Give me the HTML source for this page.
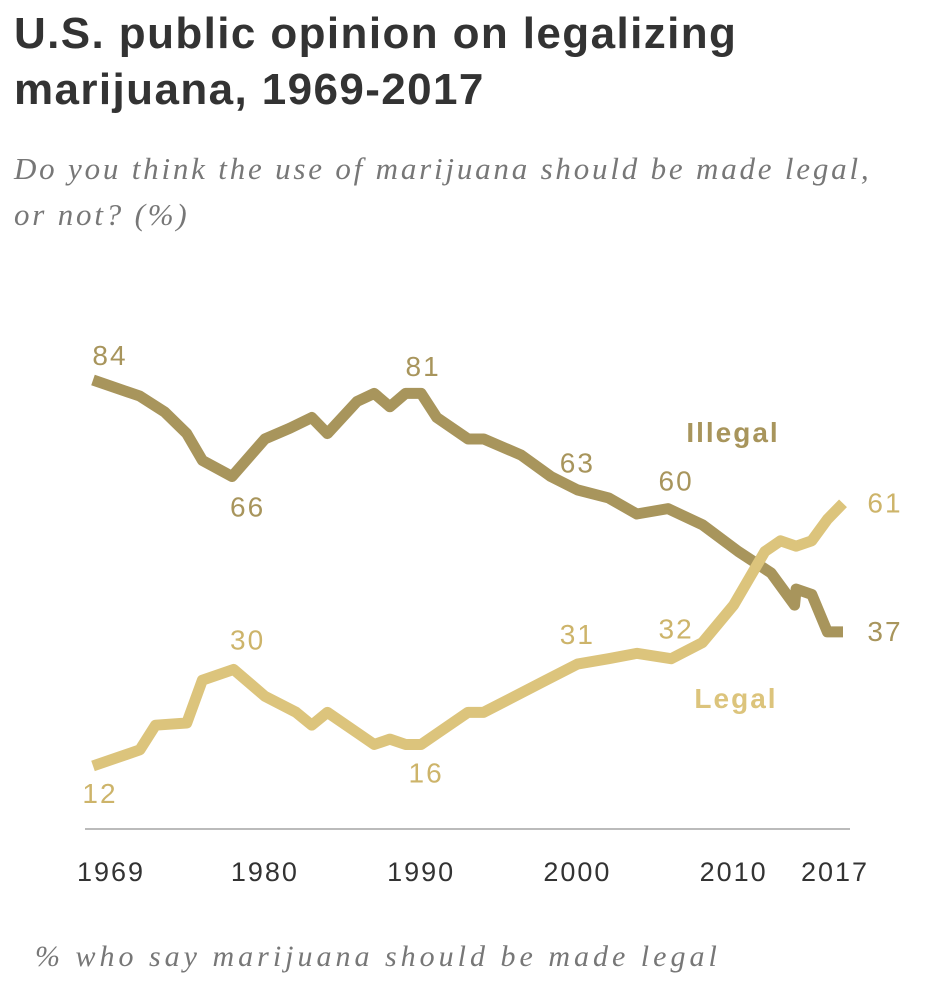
<!DOCTYPE html>
<html><head><meta charset="utf-8"><style>
body{margin:0;background:#fff;width:944px;height:1002px;overflow:hidden;font-family:"Liberation Sans",sans-serif}
.t{position:absolute;left:14px;top:6px;font-weight:bold;font-size:44px;letter-spacing:1.4px;line-height:56px;color:#333}
.s{position:absolute;left:14px;top:146px;font-family:"Liberation Serif",serif;font-style:italic;font-size:31px;letter-spacing:2.8px;line-height:46px;color:#777}
</style></head><body>
<div class="t">U.S. public opinion on legalizing<br>marijuana, 1969-2017</div>
<div class="s">Do you think the use of marijuana should be made legal,<br>or not? (%)</div>
<svg id="c" width="944" height="1002" style="position:absolute;left:0;top:0"></svg>
<script>
const illegalYears=[1969,1972,1973.6,1975,1976,1977.9,1980,1981.6,1983,1984,1985.9,1987,1988,1989,1990,1991,1993,1994,1996.4,1998.3,2000,2002,2003.8,2005.8,2008,2010.3,2012.4,2013.9,2014,2015,2016,2017];
const illegalVals=[84,81,78,74,69,66,73,75,77,74,80,81.5,79,81.5,81.5,77,73,73,70,66,63.5,62,59,60,57,52,48,42,45,44,37,37];
const legalYears=[1969,1972,1973,1975,1976,1978,1980,1982,1983,1984,1986,1987,1988,1989,1990,1991,1993,1994,1996,1998,2000,2002,2003.8,2006,2008,2010,2012,2013,2014,2015,2016,2017];
const legalVals=[12,15,19.6,20,28,30,25,22,19.6,22,18,16,17,16,16,18,22,22,25,28,31,32,33,32,35,42,52,54,53,54,58,61];
const xTicks=[1969,1980,1990,2000,2010,2017];
const labels=[["84",1969,84,17,-15,"i"],["66",1978,66,14,40,"i"],["81",1990,81,2,-20,"i"],["63",2000,63,0,-20,"i"],["60",2006,60,5,-18,"i"],["37",2017,37,42,9,"i"],["30",1978,30,14,-20,"l"],["12",1969,12,7,37,"l"],["16",1990,16,5,38,"l"],["31",2000,31,0,-20,"l"],["32",2006,32,5,-20,"l"],["61",2017,61,42,9,"l"]];
const X=y=>93+(y-1969)*(750/48), Y=v=>380-(v-84)*5.36;
const svg=document.getElementById('c'),NS='http://www.w3.org/2000/svg';
function mk(t,a){const e=document.createElementNS(NS,t);for(const k in a)e.setAttribute(k,a[k]);svg.appendChild(e);return e;}
let ax=mk('line',{x1:85,x2:850,y1:829,y2:829,stroke:'#bbb','stroke-width':2});


xTicks.forEach(t=>{let e=mk('text',{x:X(t)+(t==1969?18:t==2017?-8:0),y:881,'text-anchor':'middle','font-size':27,'letter-spacing':2,fill:'#333','font-family':'Liberation Sans'});e.textContent=t;

});
function line(ys,vs,col,name){let p=mk('polyline',{points:ys.map((y,i)=>X(y)+','+Y(vs[i])).join(' '),fill:'none',stroke:col,'stroke-width':11,'stroke-linejoin':'round'});

}
const ci='#a8955c',cl='#dcc47c';
line(illegalYears,illegalVals,ci,'illegal-line');
line(legalYears,legalVals,cl,'legal-line');
labels.forEach(l=>{let e=mk('text',{x:X(l[1])+l[3],y:Y(l[2])+l[4],'text-anchor':'middle','font-size':28,'letter-spacing':2,fill:l[5]=='i'?'#a8955c':'#cdb46a'});e.textContent=l[0];

});
let a=mk('text',{x:733,y:442,'text-anchor':'middle','font-size':28,'letter-spacing':2,'font-weight':'bold',fill:ci});a.textContent='Illegal';


let b=mk('text',{x:736,y:708,'text-anchor':'middle','font-size':28,'letter-spacing':2,'font-weight':'bold',fill:cl});b.textContent='Legal';


let f=mk('text',{x:35,y:966,'font-size':30,'letter-spacing':4,'font-style':'italic',fill:'#777','font-family':'Liberation Serif'});f.textContent='% who say marijuana should be made legal';


</script>
</body></html>
